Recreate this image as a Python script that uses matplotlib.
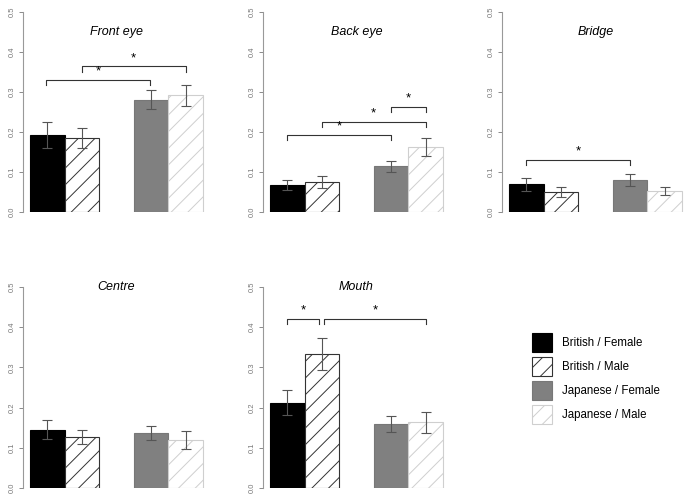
import matplotlib.pyplot as plt
from matplotlib.patches import Patch

# data (proportion of fixations)
regions = ["Front eye", "Back eye", "Bridge", "Centre", "Mouth"]
groups = ["British / Female", "British / Male", "Japanese / Female", "Japanese / Male"]

front_eye = [0.192, 0.184, 0.281, 0.292]
front_eye_err = [0.032, 0.025, 0.023, 0.026]
back_eye = [0.067, 0.075, 0.114, 0.162]
back_eye_err = [0.013, 0.014, 0.013, 0.022]
bridge = [0.069, 0.050, 0.080, 0.052]
bridge_err = [0.016, 0.012, 0.014, 0.010]
centre = [0.145, 0.127, 0.136, 0.120]
centre_err = [0.023, 0.017, 0.017, 0.022]
mouth = [0.212, 0.333, 0.160, 0.163]
mouth_err = [0.031, 0.039, 0.020, 0.027]

# significance brackets: (bar i, bar j, height, shift at i, shift at j)
front_eye_sig = [(0, 2, 0.331, -0.03, -0.02), (1, 3, 0.364, 0, 0)]
back_eye_sig = [(0, 2, 0.192, 0, 0), (1, 3, 0.226, 0, 0), (2, 3, 0.262, 0, 0)]
bridge_sig = [(0, 2, 0.130, 0, 0)]
centre_sig = []
mouth_sig = [(0, 1, 0.421, 0, -0.075), (1, 3, 0.421, 0.075, 0)]

values = [front_eye, back_eye, bridge, centre, mouth]
errors = [front_eye_err, back_eye_err, bridge_err, centre_err, mouth_err]
sigs = [front_eye_sig, back_eye_sig, bridge_sig, centre_sig, mouth_sig]

x_pos = [0.5, 1.5, 3.5, 4.5]
face = ["black", "white", "#808080", "white"]
edge = ["black", "#333333", "#777777", "#cfcfcf"]
hatch = [None, "//", None, "//"]

plt.rcParams["font.family"] = ["Liberation Sans", "DejaVu Sans"]
plt.rcParams["hatch.linewidth"] = 0.7

fig = plt.figure(figsize=(6.89, 5.0), dpi=100)

W, H = 689.0, 500.0
unit = 34.6
ax_w = 5.3 * unit
lefts = [23, 263, 502, 23, 263]
bottoms = [288, 288, 288, 12, 12]
heights = [200, 200, 200, 201, 201]
title_y = [0.45, 0.45, 0.45, 0.5, 0.5]

for k in range(5):
    ax = fig.add_axes([lefts[k] / W, bottoms[k] / H, ax_w / W, heights[k] / H])
    for i in range(4):
        ax.bar(x_pos[i], values[k][i], width=1.0, color=face[i], edgecolor=edge[i],
               hatch=hatch[i], linewidth=0.8)
        ax.errorbar(x_pos[i], values[k][i], yerr=errors[k][i], fmt="none",
                    ecolor="#555555", elinewidth=0.8, capsize=3.8, capthick=0.8)
    for (a, b, h, da, db) in sigs[k]:
        xa, xb = x_pos[a] + da, x_pos[b] + db
        ax.plot([xa, xa, xb, xb], [h - 0.013, h, h, h - 0.013], color="#333333", lw=0.8)
        ax.text((xa + xb) / 2, h + 0.006, "*", ha="center", va="bottom", fontsize=9.5)
    ax.text(2.5, title_y[k], regions[k], ha="center", va="center", fontsize=9, style="italic")
    ax.set_xlim(-0.2, 5.1)
    ax.set_ylim(0, 0.5)
    ax.set_yticks([0.0, 0.1, 0.2, 0.3, 0.4, 0.5])
    ax.set_yticklabels(["0.0", "0.1", "0.2", "0.3", "0.4", "0.5"], rotation=90, va="center")
    ax.tick_params(axis="y", labelsize=5.5, colors="#777777", length=3, width=0.6, pad=2)
    ax.set_xticks([])
    for s in ["top", "right", "bottom"]:
        ax.spines[s].set_visible(False)
    ax.spines["left"].set_bounds(0, 0.5)
    ax.spines["left"].set_color("#999999")
    ax.spines["left"].set_linewidth(0.8)
    ax.patch.set_visible(False)

handles = [Patch(facecolor=face[i], edgecolor=edge[i], hatch=hatch[i], linewidth=0.8)
           for i in range(4)]
fig.legend(handles, groups, loc="upper left", bbox_to_anchor=(532 / W, 1 - 333 / H),
           frameon=False, fontsize=8.3, handlelength=1.74, handleheight=2.16,
           labelspacing=0.43, handletextpad=0.87, borderpad=0, borderaxespad=0)

fig.savefig("out.png", dpi=100)
